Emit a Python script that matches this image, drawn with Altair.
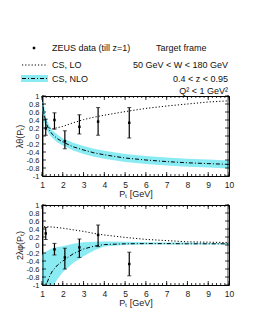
import altair as alt
import pandas as pd

# ---------------- data ----------------
pt_curve = [1.0, 1.1, 1.2, 1.35, 1.5, 1.75, 2.0, 2.5, 3.0, 3.5, 4.0, 5.0, 6.0, 7.0, 8.0, 9.0, 10.0]

# top panel (lambda_theta)
top_nlo = [0.95, 0.55, 0.32, 0.15, 0.04, -0.07, -0.15, -0.27, -0.35, -0.42, -0.47, -0.55, -0.60, -0.64, -0.67, -0.69, -0.71]
top_band_lo = [0.62, 0.35, 0.18, 0.04, -0.05, -0.16, -0.24, -0.36, -0.45, -0.52, -0.57, -0.65, -0.70, -0.74, -0.77, -0.79, -0.81]
top_band_hi = [1.0, 0.75, 0.45, 0.27, 0.14, 0.03, -0.06, -0.17, -0.25, -0.32, -0.37, -0.45, -0.50, -0.54, -0.57, -0.59, -0.61]

lo_pt = [1.2, 1.5, 2.0, 2.5, 3.0, 3.5, 4.0, 5.0, 6.0, 7.0, 8.0, 9.0, 10.0]
top_lo = [0.22, 0.18, 0.24, 0.33, 0.41, 0.47, 0.52, 0.61, 0.69, 0.75, 0.80, 0.85, 0.88]

data_pt = [1.18, 1.6, 2.1, 2.8, 3.7, 5.2]
top_val = [0.19, 0.40, -0.13, 0.23, 0.36, 0.33]
top_err_lo = [0.02, 0.17, -0.32, 0.05, 0.02, -0.05]
top_err_hi = [0.42, 0.58, 0.13, 0.53, 0.71, 0.71]

# bottom panel (2 lambda_phi)
bot_nlo = [-1.6, -1.3, -1.0, -0.8, -0.65, -0.5, -0.4, -0.22, -0.1, -0.03, 0.01, 0.03, 0.035, 0.035, 0.03, 0.03, 0.03]
bot_band_lo = [-2.0, -1.8, -1.6, -1.3, -1.05, -0.85, -0.68, -0.45, -0.28, -0.14, -0.04, 0.0, 0.01, 0.01, 0.01, 0.01, 0.01]
bot_band_hi = [-0.25, -0.2, -0.16, -0.12, -0.08, -0.05, -0.03, 0.03, 0.07, 0.08, 0.09, 0.08, 0.07, 0.06, 0.06, 0.05, 0.05]

bot_lo_pt = [1.1, 1.5, 2.0, 2.5, 3.0, 3.5, 4.0, 5.0, 6.0, 7.0, 8.0, 9.0, 10.0]
bot_lo = [0.46, 0.45, 0.42, 0.38, 0.34, 0.29, 0.25, 0.19, 0.14, 0.11, 0.08, 0.07, 0.06]

bot_val = [0.29, -0.11, -0.31, -0.06, 0.25, -0.475]
bot_err_lo = [0.14, -0.25, -0.60, -0.31, -0.04, -0.77]
bot_err_hi = [0.44, 0.04, -0.08, 0.15, 0.50, -0.18]

x_labels = [1, 2, 3, 4, 5, 6, 7, 8, 9, 10]
y_labels = [-1, -0.8, -0.6, -0.4, -0.2, 0, 0.2, 0.4, 0.6, 0.8, 1]
x_minor = [round(1 + 0.2 * i, 2) for i in range(46)]
y_minor = [round(-1 + 0.05 * i, 2) for i in range(41)]

W, H = 187, 80
FONT = "Liberation Sans"
CYAN = "#7ee9f2"

xs = alt.Scale(domain=[1, 10], nice=False)
ys = alt.Scale(domain=[-1, 1], nice=False)
X_AXIS = alt.Axis(values=x_labels, title="P\u209c [GeV]", labelFontSize=8.5, labelPadding=4,
                  titlePadding=1)


def panel(nlo, blo, bhi, lo_x, lo_y, val, elo, ehi, ytitle, show_legend):
    curve = pd.DataFrame({"pt": pt_curve, "nlo": nlo, "blo": blo, "bhi": bhi})
    lo = pd.DataFrame({"pt": lo_x, "lo": lo_y})
    pts = pd.DataFrame({"pt": data_pt, "v": val, "elo": elo, "ehi": ehi})
    y_axis = alt.Axis(values=y_labels, labelExpr="toString(datum.value)", title=ytitle,
                      labelFontSize=7.5, labelPadding=3, titlePadding=2)

    def X(f="pt"):
        return alt.X(f + ":Q", scale=xs, axis=X_AXIS)

    def Y(f):
        return alt.Y(f + ":Q", scale=ys, axis=y_axis)

    band = alt.Chart(curve).mark_area(color=CYAN, opacity=0.9, clip=True).encode(
        x=X(), y=Y("blo"), y2="bhi:Q")
    nlo_line = alt.Chart(curve).mark_line(color="black", strokeWidth=1, strokeDash=[4, 2, 1, 2],
                                          clip=True).encode(x=X(), y=Y("nlo"))
    lo_line = alt.Chart(lo).mark_line(color="black", strokeWidth=1, strokeDash=[1.2, 2],
                                      clip=True).encode(x=X(), y=Y("lo"))
    err = alt.Chart(pts).mark_rule(color="black", strokeWidth=1.2).encode(
        x=X(), y=Y("elo"), y2="ehi:Q")
    cap_lo = alt.Chart(pts).mark_tick(color="black", orient="horizontal", size=4,
                                      thickness=1).encode(x=X(), y=Y("elo"))
    cap_hi = alt.Chart(pts).mark_tick(color="black", orient="horizontal", size=4,
                                      thickness=1).encode(x=X(), y=Y("ehi"))
    dots = alt.Chart(pts).mark_square(color="black", size=6, opacity=1).encode(x=X(), y=Y("v"))

    layers = [band, nlo_line, lo_line, err, cap_lo, cap_hi, dots]

    # inward ticks on all four sides
    xmaj = pd.DataFrame({"pt": x_labels})
    xmin = pd.DataFrame({"pt": x_minor})
    ymaj = pd.DataFrame({"v": y_labels})
    ymin = pd.DataFrame({"v": y_minor})
    for df, ln in ((xmaj, 4), (xmin, 2)):
        layers.append(alt.Chart(df).mark_rule(color="black", strokeWidth=0.8).encode(
            x=X(), y=alt.value(H), y2=alt.value(H - ln)))
        layers.append(alt.Chart(df).mark_rule(color="black", strokeWidth=0.8).encode(
            x=X(), y=alt.value(0), y2=alt.value(ln)))
    for df, ln in ((ymaj, 4), (ymin, 2)):
        layers.append(alt.Chart(df).mark_rule(color="black", strokeWidth=0.8).encode(
            y=Y("v"), x=alt.value(0), x2=alt.value(ln)))
        layers.append(alt.Chart(df).mark_rule(color="black", strokeWidth=0.8).encode(
            y=Y("v"), x=alt.value(W), x2=alt.value(W - ln)))

    if show_legend:
        one = pd.DataFrame({"k": [0]})
        def txt(s, x, y, align="left"):
            return alt.Chart(one).mark_text(text=s, align=align, baseline="middle", font=FONT,
                                            fontSize=9, color="#111").encode(
                x=alt.value(x), y=alt.value(y))
        layers += [
            alt.Chart(one).mark_square(color="black", size=6, opacity=1).encode(
                x=alt.value(-8), y=alt.value(-48)),
            alt.Chart(one).mark_rule(color="black", strokeWidth=1, strokeDash=[1.2, 2]).encode(
                x=alt.value(-20), x2=alt.value(5), y=alt.value(-31)),
            alt.Chart(one).mark_rect(color=CYAN, opacity=0.9).encode(
                x=alt.value(-21), x2=alt.value(6), y=alt.value(-21), y2=alt.value(-14)),
            alt.Chart(one).mark_rule(color="black", strokeWidth=1, strokeDash=[4, 2, 1, 2]).encode(
                x=alt.value(-20), x2=alt.value(5), y=alt.value(-17.5)),
            txt("ZEUS data (till z=1)", 10, -48),
            txt("Target frame", 114, -48),
            txt("CS, LO", 10, -31),
            txt("CS, NLO", 10, -17),
            txt("50 GeV < W < 180 GeV", 186, -31, "right"),
            txt("0.4 < z < 0.95", 186, -17, "right"),
            txt("Q\u00b2 < 1 GeV\u00b2", 186, -5, "right"),
        ]
    return alt.layer(*layers).properties(width=W, height=H)


top = panel(top_nlo, top_band_lo, top_band_hi, lo_pt, top_lo, top_val, top_err_lo, top_err_hi,
            "\u03bb\u03b8(P\u209c)", True)
bot = panel(bot_nlo, bot_band_lo, bot_band_hi, bot_lo_pt, bot_lo, bot_val, bot_err_lo, bot_err_hi,
            "2\u03bb\u03c6(P\u209c)", False)

chart = alt.vconcat(top, bot, spacing=1).properties(
    padding={"left": 6, "top": 35, "right": 5, "bottom": 2},
    background="white",
).configure_view(
    stroke="black", strokeWidth=1
).configure_axis(
    ticks=False, domain=False, grid=False, labelOverlap=False, labelFlush=False,
    labelBound=False, labelFont=FONT, labelColor="#222",
    titleFont=FONT, titleFontSize=9, titleFontWeight="normal", titleColor="#222"
)

chart.save("out.html", embed_options={"renderer": "svg", "actions": False})
